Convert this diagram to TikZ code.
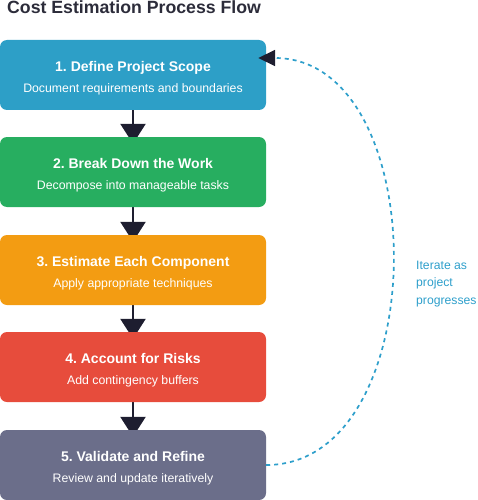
\documentclass[tikz,border=0pt]{standalone}
\usepackage{fontspec}
\setmainfont{Liberation Sans}
\usepackage{xcolor}
\usepackage{tikz}
\usetikzlibrary{arrows.meta,backgrounds}
\frenchspacing

\definecolor{scopeblue}{HTML}{2D9FC7}
\definecolor{workgreen}{HTML}{27AE60}
\definecolor{estorange}{HTML}{F39C12}
\definecolor{riskred}{HTML}{E74C3C}
\definecolor{refineslate}{HTML}{6B6E8A}
\definecolor{arrowdark}{HTML}{1E1E30}
\definecolor{titledark}{HTML}{2C2C3A}
\definecolor{loopblue}{HTML}{2E9FCB}

\tikzset{
  stage/.style={rectangle, rounded corners=7pt, minimum width=266pt, minimum height=70pt,
    inner sep=0pt, text=white, align=center, font=\fontsize{12.3}{21}\selectfont},
  flow/.style={draw=arrowdark, line width=2.5pt, -{Triangle[length=20pt,width=25pt]}},
  loopback/.style={draw=loopblue, line width=1.7pt, dash pattern=on 4pt off 4pt,
    -{Triangle[length=17pt,width=16pt,color=arrowdark]}}
}

\newcommand{\stagetitle}[1]{\rule{0pt}{16pt}{\fontsize{14}{21}\selectfont\bfseries #1}}

\begin{document}
\begin{tikzpicture}[x=1pt, y=-1pt]
\useasboundingbox (0,0) rectangle (477,500);
% Title
\node[anchor=base west, inner sep=0pt, text=titledark, font=\fontsize{17.7}{20}\selectfont\bfseries] (title) at (7,14) {Cost Estimation Process Flow};

% Stages
\node[stage, fill=scopeblue] (s1) at (133,75) {\stagetitle{1. Define Project Scope}\\ Document requirements and boundaries};
\node[stage, fill=workgreen] (s2) at (133,172) {\stagetitle{2. Break Down the Work}\\ Decompose into manageable tasks};
\node[stage, fill=estorange] (s3) at (133,270) {\stagetitle{3. Estimate Each Component}\\ Apply appropriate techniques};
\node[stage, fill=riskred] (s4) at (133,367) {\stagetitle{4. Account for Risks}\\ Add contingency buffers};
\node[stage, fill=refineslate] (s5) at (133,465) {\stagetitle{5. Validate and Refine}\\ Review and update iteratively};

% Arrows between stages
\begin{pgfonlayer}{background}
\draw[flow] (s1.south) -- ([yshift=-7pt]s2.north);
\draw[flow] (s2.south) -- ([yshift=-7pt]s3.north);
\draw[flow] (s3.south) -- ([yshift=-7pt]s4.north);
\draw[flow] (s4.south) -- ([yshift=-7pt]s5.north);
\end{pgfonlayer}

% Feedback loop
\coordinate (loopend) at ([xshift=-8pt,yshift=17pt]s1.east);
\draw[loopback] (s5.east) .. controls (435,465) and (435,58) .. (loopend);
\node[anchor=west, align=left, inner sep=0pt, text=loopblue, font=\fontsize{12.2}{17.5}\selectfont] (iterlabel) at (416,284) {Iterate as\\project\\progresses};
\end{tikzpicture}
\end{document}
